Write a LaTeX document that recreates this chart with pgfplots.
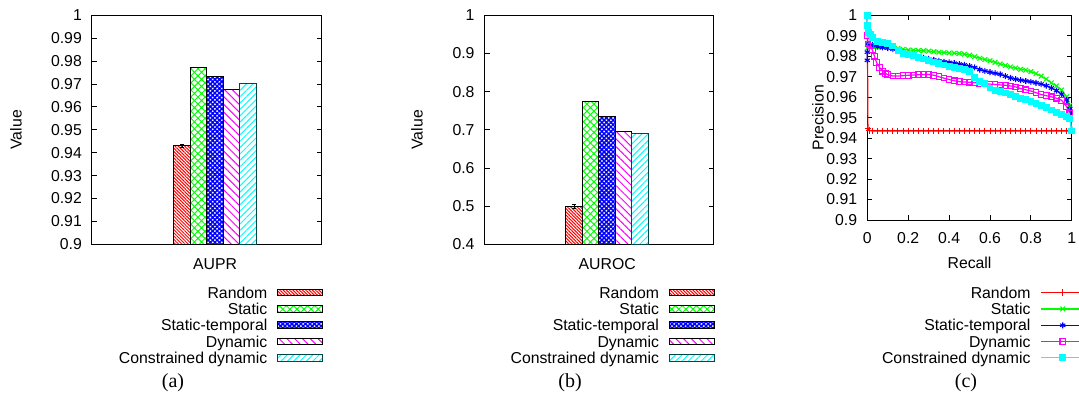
\documentclass[border=0pt]{standalone}
\usepackage{fontspec}
\setmainfont{Liberation Sans}
\newfontfamily\capfont{Liberation Serif}
\usepackage{pgfplots}
\pgfplotsset{compat=1.18}
\usetikzlibrary{patterns.meta}
\definecolor{cR}{RGB}{255,0,0}
\definecolor{cG}{RGB}{0,255,0}
\definecolor{cB}{RGB}{0,0,255}
\definecolor{cM}{RGB}{255,0,255}
\definecolor{cC}{RGB}{0,255,255}
\definecolor{cCd}{RGB}{0,70,70}
\newcommand{\fs}{\fontsize{15.8}{16}\selectfont}
\pgfplotsset{
  base/.style={
    scale only axis,
    axis line style={line width=1pt},
    tick align=inside,
    major tick length=5pt,
    tick style={line width=0.9pt, black},
    tick label style={font=\fs, inner sep=0pt},
    label style={font=\fs, inner sep=0pt},
    yticklabel style={anchor=east, xshift=-10pt},
    legend cell align=right,
    legend plot pos=right,
    legend style={draw=none, fill=none, inner sep=0pt, outer sep=0pt,
      row sep=5pt, column sep=0pt, font=\fs, anchor=north east,
      nodes={inner sep=0pt, text height=11.3pt, text depth=0pt}},
    every axis y label/.style={rotate=90, anchor=center, font=\fs, inner sep=0pt},
  },
  barleg/.style={legend image code/.code={\path (0pt,0pt); \draw[##1, line width=1pt] (10pt,-3.3pt) rectangle (55pt,3.3pt);}},
  lineleg/.style={legend image code/.code={\path (0pt,0pt); \draw[mark repeat=2,mark phase=2,##1] plot coordinates {(10pt,0pt) (31.65pt,0pt) (53.3pt,0pt)};}},
  barax/.style={base, ybar=0pt, bar width=16.5pt, xmin=-0.535, xmax=0.465, xtick={0},
    xtick style={draw=none}, xticklabel style={yshift=-9pt}, width=230pt, height=229pt,
    ylabel={Value}},
  pR/.style={barleg, draw=black, line width=1pt, pattern={Lines[angle=-45,distance=2.3pt,line width=1pt]}, pattern color=cR},
  pS/.style={barleg, draw=black, line width=1pt, pattern={Hatch[angle=45,distance=5pt,line width=1pt]}, pattern color=cG},
  pT/.style={barleg, draw=black, line width=1pt, pattern={Hatch[angle=45,distance=3.2pt,line width=1.5pt]}, pattern color=cB},
  pD/.style={barleg, draw=black, line width=1pt, pattern={Lines[angle=-45,distance=5.5pt,line width=1pt]}, pattern color=cM},
  pC/.style={barleg, draw=cCd, line width=1pt, pattern={Lines[angle=45,distance=4.5pt,line width=1pt]}, pattern color=cC},
}
\begin{document}
\begin{tikzpicture}
\useasboundingbox (0,0) rectangle (1079pt,394pt);
% ---------------- (a)
\begin{axis}[barax, at={(92pt,149.7pt)}, anchor=south west,
  ymin=0.9, ymax=1,
  ytick={0.9,0.91,0.92,0.93,0.94,0.95,0.96,0.97,0.98,0.99,1},
  yticklabels={0.9,0.91,0.92,0.93,0.94,0.95,0.96,0.97,0.98,0.99,1},
  xticklabels={AUPR},
  ylabel style={at={(axis description cs:-0.3304,0.5)}},
  legend style={at={(axis description cs:1.0057,-0.1865)}},
]
\addplot[pR, error bars/.cd, y dir=both, y explicit, error bar style={black,line width=0.8pt}, error mark options={rotate=90,black,mark size=2pt}] coordinates {(0,0.94307) +- (0,0.0005)};
\addlegendentry{Random}
\addplot[pS] coordinates {(0,0.97742)};
\addlegendentry{Static}
\addplot[pT] coordinates {(0,0.97335)};
\addlegendentry{Static-temporal}
\addplot[pD] coordinates {(0,0.96738)};
\addlegendentry{Dynamic}
\addplot[pC] coordinates {(0,0.97029)};
\addlegendentry{Constrained dynamic}
\end{axis}
% ---------------- (b)
\begin{axis}[barax, at={(484.7pt,149.7pt)}, anchor=south west, width=229pt,
  ymin=0.4, ymax=1,
  ytick={0.4,0.5,0.6,0.7,0.8,0.9,1},
  yticklabels={0.4,0.5,0.6,0.7,0.8,0.9,1},
  xticklabels={AUROC},
  ylabel style={at={(axis description cs:-0.2956,0.5)}},
  legend style={at={(axis description cs:1.0057,-0.1865)}},
]
\addplot[pR, error bars/.cd, y dir=both, y explicit, error bar style={black,line width=0.8pt}, error mark options={rotate=90,black,mark size=2pt}] coordinates {(0,0.4995) +- (0,0.005)};
\addlegendentry{Random}
\addplot[pS] coordinates {(0,0.7746)};
\addlegendentry{Static}
\addplot[pT] coordinates {(0,0.7353)};
\addlegendentry{Static-temporal}
\addplot[pD] coordinates {(0,0.6951)};
\addlegendentry{Dynamic}
\addplot[pC] coordinates {(0,0.6899)};
\addlegendentry{Constrained dynamic}
\end{axis}
% ---------------- (c)
\begin{axis}[base, at={(867.3pt,174pt)}, anchor=south west, width=204.5pt, height=204.7pt,
  xmin=0, xmax=1, ymin=0.9, ymax=1,
  xtick={0,0.2,0.4,0.6,0.8,1}, xticklabels={0,0.2,0.4,0.6,0.8,1},
  ytick={0.9,0.91,0.92,0.93,0.94,0.95,0.96,0.97,0.98,0.99,1},
  yticklabels={0.9,0.91,0.92,0.93,0.94,0.95,0.96,0.97,0.98,0.99,1},
  xticklabel style={yshift=-12pt},
  xlabel={Recall}, xlabel style={at={(axis description cs:0.5,-0.1793)}, anchor=north},
  ylabel={Precision}, ylabel style={at={(axis description cs:-0.2411,0.5)}},
  clip=false,
  legend style={at={(axis description cs:1.0645,-0.3273)}},
]
\addplot[lineleg, cR, line width=1.2pt, mark=+, mark size=3.2pt, mark options={solid,line width=1pt}] coordinates {
(0,1.0) (0.003,0.9448) (0.01,0.9437) (0.025,0.9435) (0.05,0.9435) (0.075,0.9435) (0.1,0.9435)
(0.125,0.9435) (0.15,0.9435) (0.175,0.9435) (0.2,0.9435) (0.225,0.9435) (0.25,0.9435) (0.275,0.9435)
(0.3,0.9435) (0.325,0.9435) (0.35,0.9435) (0.375,0.9435) (0.4,0.9435) (0.425,0.9435) (0.45,0.9435)
(0.475,0.9435) (0.5,0.9435) (0.525,0.9435) (0.55,0.9435) (0.575,0.9435) (0.6,0.9435) (0.625,0.9435)
(0.65,0.9435) (0.675,0.9435) (0.7,0.9435) (0.725,0.9435) (0.75,0.9435) (0.775,0.9435) (0.8,0.9435)
(0.825,0.9435) (0.85,0.9435) (0.875,0.9435) (0.9,0.9435) (0.925,0.9435) (0.95,0.9435) (0.975,0.9435)
(1.0,0.9435)};
\addlegendentry{Random}
\addplot[lineleg, cG, line width=1.2pt, mark=x, mark size=3.3pt, mark options={solid,line width=1.1pt}] coordinates {
(0,0.984) (0.025,0.9848) (0.05,0.9845) (0.075,0.9844) (0.1,0.9843) (0.125,0.9842) (0.15,0.9838)
(0.175,0.9834) (0.2,0.9831) (0.225,0.9829) (0.25,0.9828) (0.275,0.9827) (0.3,0.9825) (0.325,0.9822)
(0.35,0.982) (0.375,0.9818) (0.4,0.9816) (0.425,0.9815) (0.45,0.9814) (0.475,0.981) (0.5,0.9805)
(0.525,0.9798) (0.55,0.979) (0.575,0.9784) (0.6,0.9778) (0.625,0.977) (0.65,0.9762) (0.675,0.9755)
(0.7,0.9748) (0.725,0.9742) (0.75,0.9736) (0.775,0.9732) (0.8,0.9725) (0.825,0.9715) (0.85,0.9703)
(0.875,0.9688) (0.9,0.967) (0.925,0.9655) (0.95,0.9635) (0.975,0.9602) (0.99,0.956) (1.0,0.9435)};
\addlegendentry{Static}
\addplot[lineleg, cB, line width=1.2pt, mark=asterisk, mark size=3pt, mark options={solid,line width=1.1pt}] coordinates {
(0,0.978) (0,0.982) (0.003,0.986) (0.025,0.9855) (0.05,0.9847) (0.075,0.9843) (0.1,0.984) (0.125,0.9835)
(0.15,0.9826) (0.175,0.9818) (0.2,0.9812) (0.225,0.9805) (0.25,0.9797) (0.275,0.9792) (0.3,0.9787)
(0.325,0.9782) (0.35,0.9777) (0.375,0.9773) (0.4,0.977) (0.425,0.9766) (0.45,0.9762) (0.475,0.9758)
(0.5,0.9752) (0.525,0.9745) (0.55,0.9735) (0.575,0.9728) (0.6,0.9722) (0.625,0.9717) (0.65,0.9712)
(0.675,0.9703) (0.7,0.9694) (0.725,0.9688) (0.75,0.9683) (0.775,0.9679) (0.8,0.9675) (0.825,0.967)
(0.85,0.9664) (0.875,0.9656) (0.9,0.9645) (0.925,0.9632) (0.95,0.9615) (0.975,0.9586) (0.99,0.9545)
(1.0,0.9435)};
\addlegendentry{Static-temporal}
\addplot[lineleg, cM, line width=1.2pt, mark=square, mark size=2.8pt, mark options={solid,line width=1.1pt}] coordinates {
(0,1.0) (0,0.995) (0,0.99) (0.003,0.986) (0.015,0.985) (0.025,0.983) (0.035,0.98) (0.045,0.977)
(0.06,0.9745) (0.075,0.9727) (0.09,0.9715) (0.1,0.971) (0.125,0.9703) (0.15,0.9703) (0.175,0.9705)
(0.2,0.9707) (0.225,0.9708) (0.25,0.971) (0.275,0.9711) (0.3,0.9711) (0.325,0.9707) (0.35,0.97)
(0.375,0.9693) (0.4,0.9686) (0.425,0.968) (0.45,0.9676) (0.475,0.9674) (0.5,0.9673) (0.525,0.9671)
(0.55,0.9668) (0.575,0.9665) (0.6,0.9664) (0.625,0.9662) (0.65,0.966) (0.675,0.9658) (0.7,0.9655)
(0.725,0.965) (0.75,0.9642) (0.775,0.9636) (0.8,0.963) (0.825,0.9622) (0.85,0.9613) (0.875,0.9607)
(0.9,0.9602) (0.925,0.9595) (0.95,0.9585) (0.975,0.9553) (0.99,0.952) (1.0,0.9435)};
\addlegendentry{Dynamic}
\addplot[lineleg, cC, line width=1.2pt, mark=square*, mark size=2.8pt, mark options={solid}] coordinates {
(0,1.0) (0,0.995) (0.005,0.9915) (0.015,0.9905) (0.025,0.989) (0.05,0.9872) (0.075,0.9866)
(0.1,0.9862) (0.125,0.985) (0.15,0.9828) (0.175,0.9815) (0.2,0.9808) (0.225,0.9802) (0.25,0.9795)
(0.275,0.9787) (0.3,0.978) (0.325,0.9772) (0.35,0.9764) (0.375,0.9757) (0.4,0.975) (0.425,0.9745)
(0.45,0.9741) (0.475,0.9735) (0.5,0.9724) (0.525,0.9695) (0.55,0.9676) (0.575,0.9665) (0.6,0.9645)
(0.625,0.9632) (0.65,0.9628) (0.675,0.962) (0.7,0.9612) (0.725,0.9603) (0.75,0.9595) (0.775,0.9588)
(0.8,0.958) (0.825,0.957) (0.85,0.956) (0.875,0.9548) (0.9,0.9537) (0.925,0.9525) (0.95,0.9515)
(0.975,0.9505) (0.99,0.9495) (1.0,0.9435)};
\addlegendentry{Constrained dynamic}
\end{axis}
\node[font=\capfont\fontsize{20}{20}\selectfont, inner sep=0pt] at (173pt,11pt) {(a)};
\node[font=\capfont\fontsize{20}{20}\selectfont, inner sep=0pt] at (570pt,11pt) {(b)};
\node[font=\capfont\fontsize{20}{20}\selectfont, inner sep=0pt] at (966pt,11pt) {(c)};
\end{tikzpicture}
\end{document}
